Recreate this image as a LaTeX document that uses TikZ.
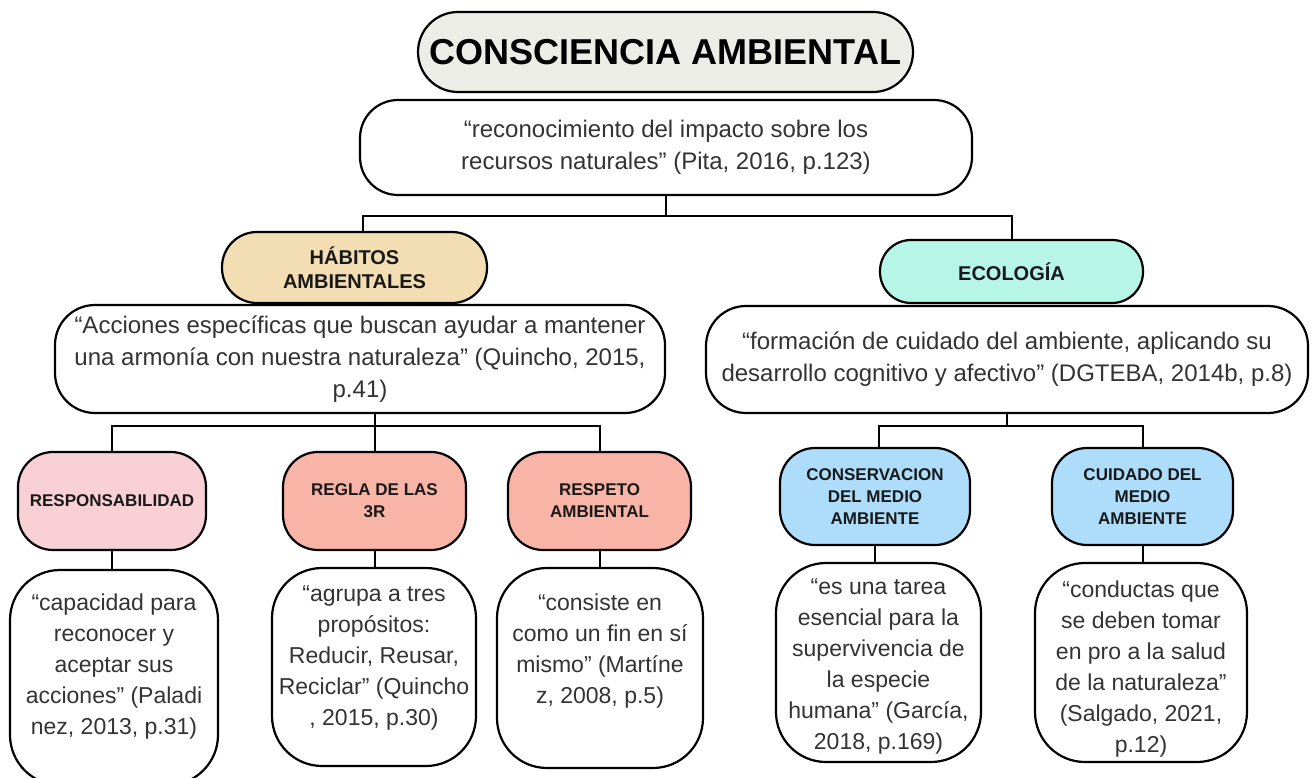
\documentclass[tikz,border=0pt]{standalone}
\usepackage{fontspec}
\setmainfont{Liberation Sans}
\usepackage{xcolor}
\definecolor{titlefill}{HTML}{EDEDE8}
\definecolor{habfill}{HTML}{F3DEB3}
\definecolor{ecofill}{HTML}{B7F5E7}
\definecolor{respfill}{HTML}{F8D0D6}
\definecolor{salmonfill}{HTML}{F8B4A7}
\definecolor{bluefill}{HTML}{ADDDFB}
\definecolor{quotegray}{HTML}{333333}

\tikzset{
    box/.style = {draw = black, line width = 2.2pt, align = center, inner sep = 0pt},
    quotebox/.style = {box, fill = white, text = quotegray, font = \fontsize{24}{32}\selectfont},
    quotetext/.style = {align = center, inner sep = 0pt, text = quotegray, font = \fontsize{23}{31}\selectfont},
    headbox/.style = {box, text = black!90, font = \bfseries\fontsize{20}{24}\selectfont},
    subbox/.style = {box, text = black!90, font = \bfseries\fontsize{17}{22}\selectfont},
    link/.style = {draw = black, line width = 2pt}
}

\begin{document}
\begin{tikzpicture}[x = 1pt, y = -1pt]
        \useasboundingbox (0,0) rectangle (1312,778);
        % top
        \node[box, fill = titlefill, minimum width = 495, minimum height = 80, rounded corners = 40, font = \bfseries\fontsize{36}{40}\selectfont] (title) at (665.5,52) {CONSCIENCIA AMBIENTAL};
        \node[quotebox, minimum width = 612, minimum height = 95, rounded corners = 38] (q0) at (666,147.5) {“reconocimiento del impacto sobre los\\recursos naturales” (Pita, 2016, p.123)};
        % second level
        \node[headbox, fill = habfill, minimum width = 265, minimum height = 71, rounded corners = 35] (hab) at (354.5,267.5) {HÁBITOS\\AMBIENTALES};
        \node[headbox, fill = ecofill, minimum width = 263, minimum height = 63, rounded corners = 31] (eco) at (1011.5,271.5) {ECOLOGÍA};
        \node[quotebox, minimum width = 610, minimum height = 108, rounded corners = 40] (qh) at (360,359) {“Acciones específicas que buscan ayudar a mantener\\una armonía con nuestra naturaleza” (Quincho, 2015,\\p.41)};
        \node[quotebox, minimum width = 602, minimum height = 107, rounded corners = 40] (qe) at (1007,359.5) {“formación de cuidado del ambiente, aplicando su\\desarrollo cognitivo y afectivo” (DGTEBA, 2014b, p.8)};
        % third level
        \node[subbox, fill = respfill, minimum width = 188, minimum height = 98, rounded corners = 35] (resp) at (112,501) {RESPONSABILIDAD};
        \node[subbox, fill = salmonfill, minimum width = 183, minimum height = 98, rounded corners = 35] (regla) at (374.5,501) {REGLA DE LAS\\3R};
        \node[subbox, fill = salmonfill, minimum width = 183, minimum height = 98, rounded corners = 35] (respeto) at (599.5,501) {RESPETO\\AMBIENTAL};
        \node[subbox, fill = bluefill, minimum width = 190, minimum height = 97, rounded corners = 35] (cons) at (875,496.5) {CONSERVACION\\DEL MEDIO\\AMBIENTE};
        \node[subbox, fill = bluefill, minimum width = 181, minimum height = 97, rounded corners = 35] (cuid) at (1142.5,496.5) {CUIDADO DEL\\MEDIO\\AMBIENTE};
        % bottom quotes
        \node[quotebox, minimum width = 208, minimum height = 215, rounded corners = 50] (qr) at (114,677.5) {};
        \node[quotetext] (qrtext) at (114,667) {“capacidad para\\reconocer y\\aceptar sus\\acciones” (Paladi\\nez, 2013, p.31)};
        \node[quotebox, minimum width = 204, minimum height = 198, rounded corners = 50] (qg) at (374,667) {};
        \node[quotetext] (qgtext) at (374,658) {“agrupa a tres\\propósitos:\\Reducir, Reusar,\\Reciclar” (Quincho\\, 2015, p.30)};
        \node[quotebox, minimum width = 206, minimum height = 200, rounded corners = 50] (qp) at (600,668) {};
        \node[quotetext] (qptext) at (600,651) {“consiste en\\como un fin en sí\\mismo” (Martíne\\z, 2008, p.5)};
        \node[quotebox, minimum width = 205, minimum height = 199, rounded corners = 50] (qc) at (878.5,662.5) {};
        \node[quotetext] (qctext) at (878.5,666) {“es una tarea\\esencial para la\\supervivencia de\\la especie\\humana” (García,\\2018, p.169)};
        \node[quotebox, minimum width = 212, minimum height = 199, rounded corners = 50] (qd) at (1141,662.5) {};
        \node[quotetext] (qdtext) at (1141,669) {“conductas que\\se deben tomar\\en pro a la salud\\de la naturaleza”\\(Salgado, 2021,\\p.12)};
        % connectors
        \coordinate (fork0) at (0,216);
        \coordinate (fork1) at (0,426);
        \draw[link] (q0.south) -- (q0.south |- fork0);
        \draw[link] ([xshift = 8pt]hab.north) |- (eco.north |- fork0) -- (eco.north);
        \draw[link] (qh.south -| regla.north) -- (regla.north);
        \draw[link] (resp.north) |- (respeto.north |- fork1) -- (respeto.north);
        \draw[link] (qe.south) -- (qe.south |- fork1);
        \draw[link] ([xshift = 4pt]cons.north) |- (cuid.north |- fork1) -- (cuid.north);
        \foreach \a/\b in {resp/qr, regla/qg, respeto/qp, cons/qc, cuid/qd}
            \draw[link] (\a.south) -- (\a.south |- \b.north);
\end{tikzpicture}
\end{document}
